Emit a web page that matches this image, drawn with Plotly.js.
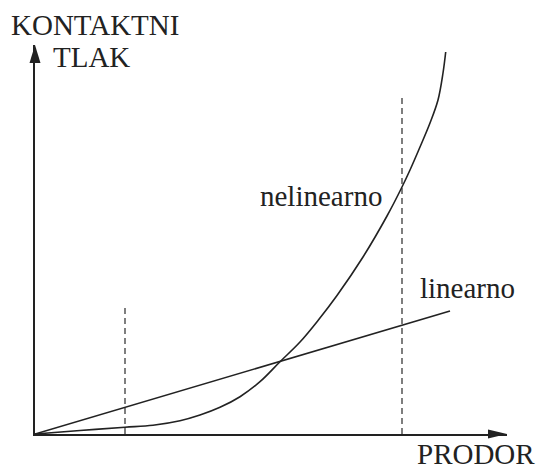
<!DOCTYPE html>
<html>
<head>
<meta charset="utf-8">
<script src="https://cdn.plot.ly/plotly-3.0.1.min.js"></script>
<style>html,body{margin:0;padding:0;background:#fff;}#chart{width:538px;height:472px;}</style>
</head>
<body>
<div id="chart"></div>
<script>
// Penetration (PRODOR) vs contact pressure (KONTAKTNI TLAK), arbitrary units
const linearX = [0, 41.5];
const linearY = [0, 12.3];
const nonlinearX = [0, 4.5, 9.0, 11.8, 14.5, 16.5, 18.5, 20.5, 22.5, 24.5, 26.5, 28.3, 30.2, 32.8, 35.2, 36.7, 37.5, 38.5, 39.5, 40.3, 40.8, 41.07];
const nonlinearY = [0, 0.35, 0.67, 0.88, 1.33, 1.9, 2.67, 3.73, 5.23, 7.23, 9.2, 11.35, 13.85, 17.7, 21.8, 24.7, 26.4, 28.7, 31.1, 33.4, 36.1, 38.2];
const markerLeftX = [9.0, 9.0];
const markerLeftY = [0, 12.6];
const markerRightX = [36.7, 36.7];
const markerRightY = [0, 33.9];
const labels = {yTop: "KONTAKTNI", yBottom: "TLAK", x: "PRODOR", nonlin: "nelinearno", lin: "linearno"};

const ink = "#222";
const font = {family: "Liberation Serif, Times New Roman, serif", size: 29, color: ink};

const traces = [
  {x: linearX, y: linearY, mode: "lines", line: {color: ink, width: 1.6}, hoverinfo: "skip"},
  {x: nonlinearX, y: nonlinearY, mode: "lines", line: {color: ink, width: 1.6, shape: "spline", smoothing: 1.0}, hoverinfo: "skip"},
  {x: markerLeftX, y: markerLeftY, mode: "lines", line: {color: "#2a2a2a", width: 1.2, dash: "6px,4px"}, hoverinfo: "skip"},
  {x: markerRightX, y: markerRightY, mode: "lines", line: {color: "#2a2a2a", width: 1.2, dash: "6px,4px"}, hoverinfo: "skip"}
];

const layout = {
  width: 538, height: 472,
  margin: {l: 35, r: 31, t: 45, b: 38},
  paper_bgcolor: "#fff", plot_bgcolor: "#fff",
  showlegend: false,
  xaxis: {range: [0, 47.2], showgrid: false, zeroline: false, showticklabels: false, ticks: "",
          showline: true, linecolor: ink, linewidth: 2, fixedrange: true},
  yaxis: {range: [0, 38.9], showgrid: false, zeroline: false, showticklabels: false, ticks: "",
          showline: true, linecolor: ink, linewidth: 2, fixedrange: true},
  shapes: [
    {type: "path", xref: "paper", yref: "paper", xsizemode: "pixel", ysizemode: "pixel",
     xanchor: 1, yanchor: 0, path: "M 0 0 L -19 4.5 L -19 -4.5 Z", fillcolor: ink, line: {width: 0}},
    {type: "path", xref: "paper", yref: "paper", xsizemode: "pixel", ysizemode: "pixel",
     xanchor: 0, yanchor: 1, path: "M 0 0 L -5.5 -18 L 5.5 -18 Z", fillcolor: ink, line: {width: 0}}
  ],
  annotations: [
    {text: labels.yTop, x: -0.0557, y: 1.0514, xref: "paper", yref: "paper", xanchor: "left", yanchor: "middle", showarrow: false, font: font},
    {text: labels.yBottom, x: 1.6, y: 37.7, xref: "x", yref: "y", xanchor: "left", yanchor: "middle", showarrow: false, font: font},
    {text: labels.x, x: 0.805, y: -0.0977, xref: "paper", yref: "paper", xanchor: "left", yanchor: "bottom", showarrow: false, font: font},
    {text: labels.nonlin, x: 22.3, y: 23.8, xref: "x", yref: "y", xanchor: "left", yanchor: "middle", showarrow: false, font: font},
    {text: labels.lin, x: 38.3, y: 14.6, xref: "x", yref: "y", xanchor: "left", yanchor: "middle", showarrow: false, font: font}
  ]
};

Plotly.newPlot("chart", traces, layout, {staticPlot: true, displayModeBar: false});
</script>
</body>
</html>
